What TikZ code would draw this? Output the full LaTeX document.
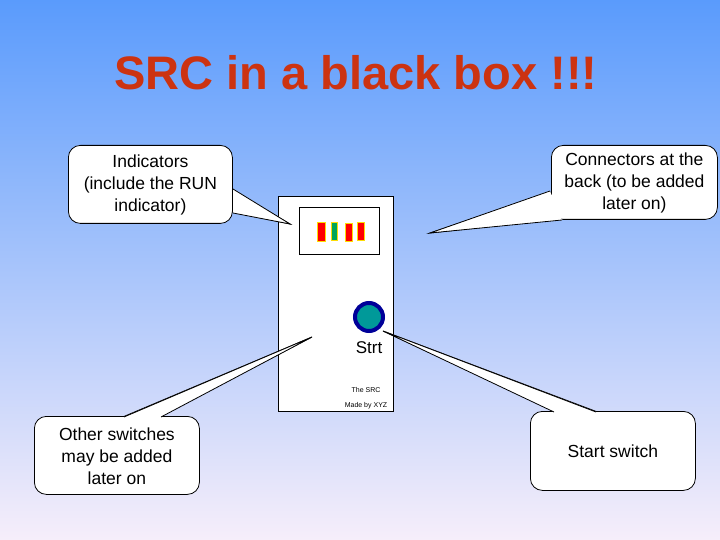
\documentclass[tikz,border=0pt]{standalone}
\usepackage{fontspec}
\setmainfont{Liberation Sans}
\begin{document}
\begin{tikzpicture}[x=1pt,y=-1pt,
  txt/.style={font=\fontsize{17.5}{22}\selectfont,align=center},
  bub/.style={fill=white,draw=black,line width=0.8pt,rounded corners=12pt},
  led/.style={draw=yellow!80!orange,line width=0.8pt}]
\definecolor{topc}{HTML}{5A9BFC}
\definecolor{botc}{HTML}{F6EEFA}
\definecolor{titc}{HTML}{CC3311}
\shade[top color=topc,bottom color=botc] (0,0) rectangle (720,540);
\useasboundingbox (0,0) rectangle (720,540);
\node[font=\bfseries\fontsize{47}{52}\selectfont,text=titc] (title) at (356,73) {SRC in a black box !!!};
% box
\node[draw,fill=white,minimum width=115,minimum height=215,anchor=north west,inner sep=0] (box) at (278,196) {};
\node[draw,fill=white,minimum width=80,minimum height=47,anchor=north west,inner sep=0] (panel) at (299,207) {};
\fill[red,led] (317,222) rectangle (325,241);
\fill[teal!70!green,led] (331,222) rectangle (337,240);
\fill[red,led] (345,223) rectangle (352,241);
\fill[red,led] (357,222) rectangle (364,240);
\node[circle,draw=blue!60!black,line width=4pt,fill=teal!80!cyan,minimum size=28] (sw) at (369,317) {};
\node[font=\fontsize{17}{20}\selectfont] (strt) at (369,348) {Strt};
\node[font=\fontsize{7}{8}\selectfont] (src) at (366,390) {The SRC};
\node[font=\fontsize{7}{8}\selectfont] (xyz) at (366,406) {Made by XYZ};
% tails
\coordinate (t1) at (290,224); \coordinate (t2) at (430,233);
\coordinate (t3) at (312,337); \coordinate (t4) at (383,331);
\foreach \a/\b/\c in {{(232,190)}/{(232,212)}/t1,{(551,192)}/{(562,219)}/t2,{(125,416)}/{(160,416)}/t3,{(555,411)}/{(595,411)}/t4}{
  \filldraw[fill=white,line width=0.8pt] \a -- (\c) -- \b -- cycle;}
\node[bub,minimum width=164,minimum height=78,anchor=north west] (b1) at (68,145) {};
\node[bub,minimum width=166,minimum height=74,anchor=north west] (b2) at (551,145) {};
\node[bub,minimum width=165,minimum height=78,anchor=north west] (b3) at (34,416) {};
\node[bub,minimum width=165,minimum height=79,anchor=north west] (b4) at (530,411) {};
\foreach \a/\b/\c in {{(233,189)}/{(233,213)}/t1,{(550,191)}/{(562,220)}/t2,{(124,417)}/{(161,417)}/t3,{(554,412)}/{(596,412)}/t4}{
  \fill[white] \a -- (\c) -- \b -- cycle;
  \draw[line width=0.8pt] \a -- (\c) -- \b;}
\node[txt] at ([yshift=-1]b1) {Indicators\\(include the RUN\\indicator)};
\node[txt] at ([yshift=-1]b2) {Connectors at the\\back (to be added\\later on)};
\node[txt] at ([yshift=-1]b3) {Other switches\\may be added\\later on};
\node[txt] at (b4) {Start switch};
\end{tikzpicture}
\end{document}
